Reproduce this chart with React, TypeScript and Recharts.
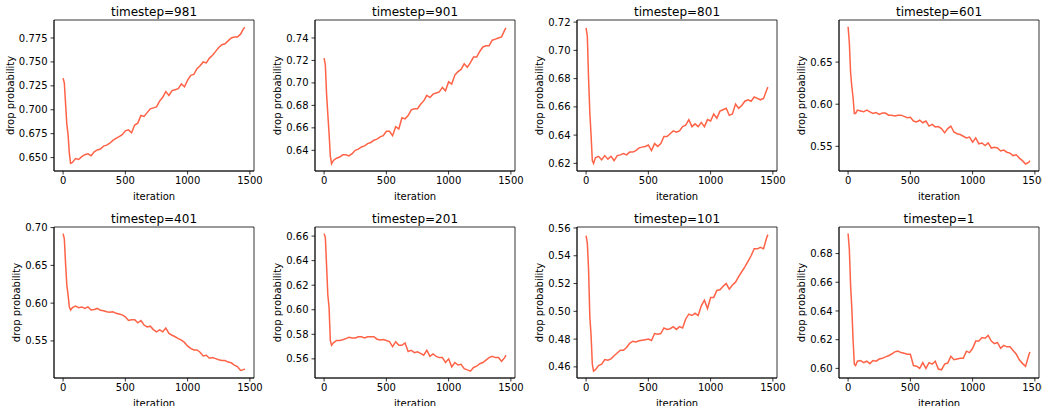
import React from "react";
import { LineChart, Line, XAxis, YAxis, ReferenceArea } from "recharts";

const ITER = [
  0, 10, 20, 30, 40, 50, 60, 75, 100, 125, 150, 175, 200, 225, 250, 275, 300, 325, 350, 375,
  400, 425, 450, 475, 500, 525, 550, 575, 600, 625, 650, 675, 700, 725, 750, 775, 800, 825,
  850, 875, 900, 925, 950, 975, 1000, 1025, 1050, 1075, 1100, 1125, 1150, 1175, 1200, 1225,
  1250, 1275, 1300, 1325, 1350, 1375, 1400, 1425, 1450, 1460,
];

const TITLES = [
  "timestep=981", "timestep=901", "timestep=801", "timestep=601",
  "timestep=401", "timestep=201", "timestep=101", "timestep=1",
];

const T981 = [
  0.733, 0.728, 0.706, 0.685, 0.674, 0.655, 0.644, 0.645, 0.649, 0.648, 0.651, 0.653, 0.654,
  0.652, 0.656, 0.658, 0.659, 0.662, 0.663, 0.665, 0.668, 0.670, 0.672, 0.674, 0.678, 0.679,
  0.676, 0.684, 0.686, 0.694, 0.693, 0.697, 0.701, 0.702, 0.703, 0.709, 0.713, 0.719, 0.715,
  0.720, 0.721, 0.722, 0.727, 0.724, 0.731, 0.736, 0.737, 0.743, 0.746, 0.750, 0.749, 0.754,
  0.757, 0.761, 0.765, 0.768, 0.769, 0.772, 0.775, 0.776, 0.776, 0.779, 0.785, 0.786,
];
const T901 = [
  0.722, 0.716, 0.690, 0.672, 0.655, 0.635, 0.628, 0.631, 0.633, 0.634, 0.636, 0.636, 0.635,
  0.637, 0.640, 0.641, 0.643, 0.644, 0.646, 0.647, 0.649, 0.650, 0.652, 0.653, 0.657, 0.657,
  0.653, 0.661, 0.659, 0.669, 0.668, 0.671, 0.676, 0.677, 0.677, 0.681, 0.684, 0.689, 0.687,
  0.690, 0.691, 0.692, 0.696, 0.693, 0.701, 0.699, 0.707, 0.710, 0.712, 0.717, 0.714, 0.718,
  0.723, 0.723, 0.728, 0.732, 0.733, 0.733, 0.738, 0.739, 0.740, 0.741, 0.747, 0.749,
];
const T801 = [
  0.716, 0.710, 0.680, 0.656, 0.640, 0.622, 0.620, 0.624, 0.625, 0.6225, 0.6255, 0.623, 0.625,
  0.622, 0.6255, 0.626, 0.627, 0.626, 0.628, 0.628, 0.629, 0.631, 0.6315, 0.632, 0.633, 0.629,
  0.634, 0.632, 0.634, 0.639, 0.639, 0.641, 0.643, 0.642, 0.643, 0.646, 0.647, 0.651, 0.646,
  0.648, 0.646, 0.649, 0.646, 0.651, 0.650, 0.655, 0.652, 0.657, 0.658, 0.659, 0.654, 0.655,
  0.662, 0.659, 0.661, 0.664, 0.665, 0.664, 0.667, 0.666, 0.665, 0.666, 0.672, 0.674,
];
const T601 = [
  0.692, 0.673, 0.638, 0.621, 0.608, 0.589, 0.589, 0.593, 0.592, 0.591, 0.593, 0.591, 0.589,
  0.590, 0.588, 0.5895, 0.5895, 0.587, 0.587, 0.586, 0.587, 0.587, 0.5855, 0.584, 0.5845, 0.580,
  0.579, 0.581, 0.578, 0.580, 0.574, 0.576, 0.573, 0.5735, 0.571, 0.566, 0.571, 0.574, 0.567,
  0.565, 0.564, 0.562, 0.560, 0.561, 0.555, 0.560, 0.553, 0.554, 0.551, 0.554, 0.548, 0.549,
  0.548, 0.5445, 0.5455, 0.543, 0.542, 0.539, 0.540, 0.536, 0.533, 0.529, 0.531, 0.533,
];
const T401 = [
  0.692, 0.685, 0.652, 0.624, 0.611, 0.595, 0.591, 0.594, 0.596, 0.594, 0.595, 0.593, 0.595,
  0.591, 0.5915, 0.593, 0.5905, 0.590, 0.5885, 0.588, 0.5885, 0.5865, 0.5855, 0.5845, 0.582,
  0.577, 0.578, 0.578, 0.574, 0.577, 0.571, 0.5685, 0.5695, 0.565, 0.562, 0.5645, 0.562, 0.567,
  0.560, 0.5575, 0.5555, 0.553, 0.551, 0.548, 0.543, 0.540, 0.538, 0.538, 0.535, 0.530, 0.531,
  0.527, 0.528, 0.5265, 0.525, 0.524, 0.524, 0.522, 0.521, 0.518, 0.516, 0.511, 0.512, 0.513,
];
const T201 = [
  0.662, 0.659, 0.636, 0.612, 0.602, 0.575, 0.571, 0.573, 0.575, 0.575, 0.5755, 0.5765, 0.5775,
  0.577, 0.577, 0.578, 0.578, 0.577, 0.578, 0.578, 0.578, 0.576, 0.5753, 0.5757, 0.575, 0.574,
  0.570, 0.574, 0.571, 0.571, 0.573, 0.566, 0.567, 0.565, 0.5657, 0.5645, 0.563, 0.567, 0.562,
  0.564, 0.562, 0.561, 0.561, 0.557, 0.560, 0.5535, 0.557, 0.555, 0.5555, 0.552, 0.551, 0.550,
  0.553, 0.554, 0.556, 0.557, 0.559, 0.561, 0.562, 0.561, 0.561, 0.558, 0.561, 0.563,
];
const T101 = [
  0.5545, 0.549, 0.530, 0.496, 0.483, 0.462, 0.457, 0.458, 0.461, 0.462, 0.4653, 0.4648, 0.4658,
  0.468, 0.470, 0.472, 0.472, 0.474, 0.4769, 0.4785, 0.478, 0.4788, 0.4792, 0.4796, 0.480, 0.479,
  0.484, 0.4835, 0.484, 0.488, 0.487, 0.4875, 0.489, 0.487, 0.489, 0.488, 0.4945, 0.498, 0.497,
  0.4986, 0.497, 0.504, 0.508, 0.502, 0.510, 0.510, 0.515, 0.5155, 0.518, 0.520, 0.516, 0.519,
  0.521, 0.525, 0.5285, 0.532, 0.536, 0.540, 0.545, 0.545, 0.546, 0.545, 0.553, 0.5552,
];
const T1 = [
  0.694, 0.683, 0.658, 0.642, 0.620, 0.603, 0.602, 0.605, 0.6055, 0.604, 0.605, 0.6033, 0.6055,
  0.605, 0.6065, 0.607, 0.608, 0.6088, 0.610, 0.6115, 0.612, 0.611, 0.6105, 0.6098, 0.6098,
  0.602, 0.6015, 0.600, 0.604, 0.600, 0.604, 0.603, 0.605, 0.5995, 0.599, 0.603, 0.6037, 0.6084,
  0.606, 0.6065, 0.607, 0.607, 0.612, 0.611, 0.614, 0.619, 0.619, 0.6215, 0.621, 0.623, 0.619,
  0.6173, 0.618, 0.614, 0.616, 0.615, 0.615, 0.6125, 0.610, 0.606, 0.6035, 0.6014, 0.609, 0.6115,
];

const SERIES = [T981, T901, T801, T601, T401, T201, T101, T1];

const Y_TICKS = [
  [0.65, 0.675, 0.7, 0.725, 0.75, 0.775],
  [0.64, 0.66, 0.68, 0.7, 0.72, 0.74],
  [0.62, 0.64, 0.66, 0.68, 0.7, 0.72],
  [0.55, 0.6, 0.65],
  [0.55, 0.6, 0.65, 0.7],
  [0.56, 0.58, 0.6, 0.62, 0.64, 0.66],
  [0.46, 0.48, 0.5, 0.52, 0.54, 0.56],
  [0.6, 0.62, 0.64, 0.66, 0.68],
];
const Y_DECIMALS = [3, 2, 2, 2, 2, 2, 2, 2];
const Y_DOMAINS: [number, number][] = [
  [0.636, 0.7938],
  [0.6216, 0.756],
  [0.6146, 0.7215],
  [0.5207, 0.7],
  [0.5009, 0.7008],
  [0.5444, 0.6674],
  [0.452, 0.5607],
  [0.5933, 0.6985],
];
const X_TICKS = [0, 500, 1000, 1500];
const X_DOMAIN: [number, number] = [-73, 1533];

const COL_LEFTS = [54.3, 315.2, 577.3, 839.3];
const ROW_TOPS = [19.5, 226.5];
const PLOT_W = 200;
const PLOT_H = 151;
const YAXIS_W = 54;
const XAXIS_H = 40;
const M_TOP = 20;
const M_RIGHT = 14;

const FONT = "DejaVu Sans";
const COLOR = "#ff6347";

function Panel({ idx }: { idx: number }) {
  const col = idx % 4;
  const row = Math.floor(idx / 4);
  const vals = SERIES[idx];
  const data = ITER.map((it, i) => ({ iter: it, v: vals[i] }));
  const dec = Y_DECIMALS[idx];
  const ylabOffset = dec === 3 ? 43.8 : 37.5;
  const dom = Y_DOMAINS[idx];

  const titleContent = (props: any) => {
    const vb = props.viewBox || {};
    return (
      <text
        x={vb.x + vb.width / 2}
        y={vb.y - 4.5}
        textAnchor="middle"
        fontFamily={FONT}
        fontSize={12}
        fill="#000"
      >
        {TITLES[idx]}
      </text>
    );
  };
  const xLabelContent = (props: any) => {
    const vb = props.viewBox || {};
    return (
      <text
        x={vb.x + vb.width / 2}
        y={vb.y + 28.6}
        textAnchor="middle"
        fontFamily={FONT}
        fontSize={10}
        fill="#000"
      >
        iteration
      </text>
    );
  };
  const yLabelContent = (props: any) => {
    const vb = props.viewBox || {};
    const cx = vb.x + vb.width - ylabOffset;
    const cy = vb.y + vb.height / 2;
    return (
      <text
        x={cx}
        y={cy}
        transform={`rotate(-90 ${cx} ${cy})`}
        textAnchor="middle"
        dominantBaseline="central"
        fontFamily={FONT}
        fontSize={10}
        fill="#000"
      >
        drop probability
      </text>
    );
  };

  const tickStyle = { fill: "#000", fontSize: 10, fontFamily: FONT };
  const lineStyle = { stroke: "#000", strokeWidth: 0.8 };

  return (
    <div
      style={{
        position: "absolute",
        left: COL_LEFTS[col] - YAXIS_W,
        top: ROW_TOPS[row] - M_TOP,
      }}
    >
      <LineChart
        width={YAXIS_W + PLOT_W + M_RIGHT}
        height={M_TOP + PLOT_H + XAXIS_H}
        data={data}
        margin={{ top: M_TOP, right: M_RIGHT, bottom: 0, left: 0 }}
      >
        <XAxis
          xAxisId="b"
          dataKey="iter"
          type="number"
          domain={X_DOMAIN}
          ticks={X_TICKS}
          interval={0}
          allowDataOverflow
          height={XAXIS_H}
          tickSize={3.5}
          tickMargin={2.5}
          tick={tickStyle}
          tickLine={lineStyle}
          axisLine={lineStyle}
          label={{ content: xLabelContent }}
        />
        <YAxis
          yAxisId="l"
          type="number"
          domain={dom}
          ticks={Y_TICKS[idx]}
          interval={0}
          allowDataOverflow
          width={YAXIS_W}
          tickSize={3.5}
          tickMargin={3}
          tick={tickStyle}
          tickLine={lineStyle}
          axisLine={lineStyle}
          tickFormatter={(v: number) => v.toFixed(dec)}
          label={{ content: yLabelContent }}
        />
        <Line
          xAxisId="b"
          yAxisId="l"
          dataKey="v"
          type="linear"
          stroke={COLOR}
          strokeWidth={1.5}
          dot={false}
          activeDot={false}
          isAnimationActive={false}
        />
        <ReferenceArea
          xAxisId="b"
          yAxisId="l"
          x1={X_DOMAIN[0]}
          x2={X_DOMAIN[1]}
          y1={dom[0]}
          y2={dom[1]}
          fill="none"
          fillOpacity={0}
          stroke="#000"
          strokeWidth={0.8}
          ifOverflow="visible"
          label={{ content: titleContent }}
        />
      </LineChart>
    </div>
  );
}

export default function App() {
  return (
    <div
      style={{
        position: "absolute",
        left: 0,
        top: 0,
        width: 1042,
        height: 406,
        overflow: "hidden",
        background: "#fff",
      }}
    >
      {SERIES.map((_, i) => (
        <Panel key={i} idx={i} />
      ))}
    </div>
  );
}
